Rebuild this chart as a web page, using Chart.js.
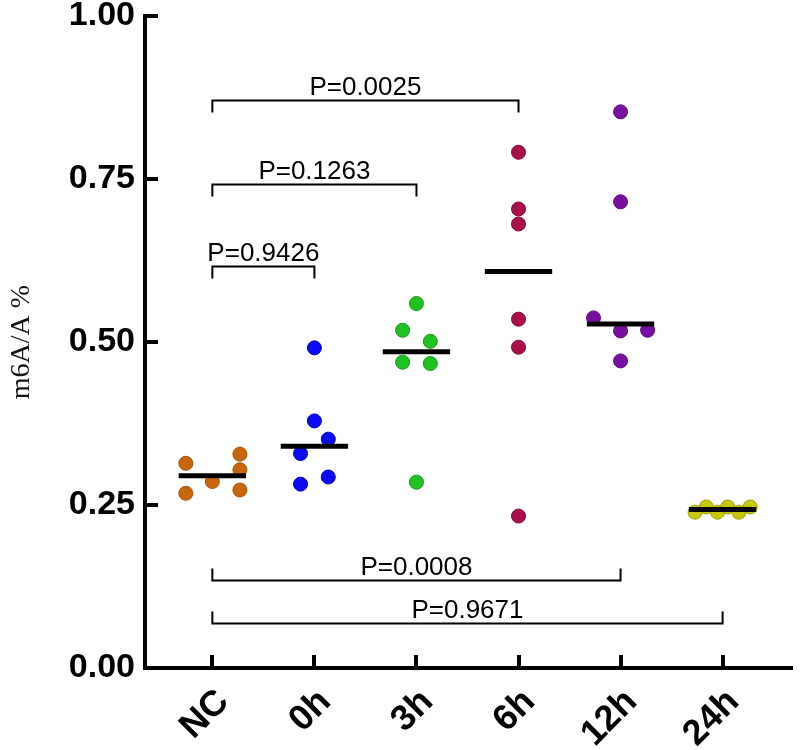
<!DOCTYPE html>
<html><head><meta charset="utf-8">
<script src="https://cdn.jsdelivr.net/npm/chart.js@4"></script>
<style>html,body{margin:0;padding:0;background:#fff;}</style>
</head><body>
<canvas id="c" width="800" height="750"></canvas>
<script>
const categories = ['NC', '0h', '3h', '6h', '12h', '24h'];

const ncValues  = [0.314, 0.268, 0.286, 0.328, 0.304, 0.273];
const h0Values  = [0.491, 0.379, 0.351, 0.329, 0.293, 0.282];
const h3Values  = [0.559, 0.518, 0.501, 0.469, 0.467, 0.285];
const h6Values  = [0.791, 0.704, 0.681, 0.535, 0.492, 0.233];
const h12Values = [0.853, 0.715, 0.537, 0.517, 0.518, 0.471];
const h24Values = [0.239, 0.247, 0.239, 0.247, 0.239, 0.247];

// horizontal scatter offsets (category units) of each point
const ncJitter  = [-0.26, -0.26, 0, 0.27, 0.27, 0.27];
const h0Jitter  = [0, 0, 0.136, -0.136, 0.136, -0.136];
const h3Jitter  = [0, -0.136, 0.136, -0.136, 0.136, 0];
const h6Jitter  = [0, 0, 0, 0, 0, 0];
const h12Jitter = [0, 0, -0.265, 0, 0.265, 0];
const h24Jitter = [-0.27, -0.16, -0.05, 0.05, 0.16, 0.27];

const yTicks = [0, 0.25, 0.5, 0.75, 1];
const yTickLabels = ['0.00', '0.25', '0.50', '0.75', '1.00'];

const bracketFrom   = [0, 0, 0, 0, 0];
const bracketTo     = [1, 2, 3, 4, 5];
const bracketLevel  = [0.616, 0.743, 0.871, 0.135, 0.069];
const bracketLabels = ['P=0.9426', 'P=0.1263', 'P=0.0025', 'P=0.0008', 'P=0.9671'];

const groupValues = [ncValues, h0Values, h3Values, h6Values, h12Values, h24Values];
const groupJitter = [ncJitter, h0Jitter, h3Jitter, h6Jitter, h12Jitter, h24Jitter];
const fillColors   = ['#C9660C', '#0A0AF2', '#1FC21F', '#AA0F4C', '#7A10A2', '#C8C80A'];
const borderColors = ['#A5520A', '#0000C0', '#159A15', '#85083A', '#5E0A80', '#9E9E05'];

function median(arr) {
  const s = [...arr].sort((a, b) => a - b);
  const n = s.length;
  return n % 2 ? s[(n - 1) / 2] : (s[n / 2 - 1] + s[n / 2]) / 2;
}

const datasets = [];
groupValues.forEach((vals, i) => {
  datasets.push({
    type: 'scatter',
    data: vals.map((v, k) => ({ x: i + groupJitter[i][k], y: v })),
    backgroundColor: fillColors[i],
    borderColor: borderColors[i],
    borderWidth: 1,
    pointRadius: 7,
    pointHoverRadius: 7,
    order: 2
  });
});
groupValues.forEach((vals, i) => {
  const m = median(vals);
  datasets.push({
    type: 'line',
    data: [{ x: i - 0.33, y: m }, { x: i + 0.33, y: m }],
    borderColor: '#000',
    borderWidth: 5,
    borderCapStyle: 'butt',
    pointRadius: 0,
    fill: false,
    order: 1
  });
});

const decor = {
  id: 'decor',
  afterDraw(chart) {
    const { ctx, chartArea: a, scales: { x, y } } = chart;
    ctx.save();
    ctx.strokeStyle = '#000';
    ctx.lineCap = 'butt';
    ctx.lineWidth = 4;
    yTicks.forEach(v => {
      const py = Math.round(y.getPixelForValue(v));
      ctx.beginPath(); ctx.moveTo(a.left, py); ctx.lineTo(a.left + 13, py); ctx.stroke();
    });
    categories.forEach((c, i) => {
      const px = Math.round(x.getPixelForValue(i));
      ctx.beginPath(); ctx.moveTo(px, a.bottom); ctx.lineTo(px, a.bottom - 13); ctx.stroke();
    });
    ctx.lineWidth = 2;
    ctx.fillStyle = '#000';
    ctx.font = '26px "Liberation Sans", Arial, sans-serif';
    ctx.textAlign = 'center';
    ctx.textBaseline = 'alphabetic';
    bracketLabels.forEach((lab, k) => {
      const x1 = x.getPixelForValue(bracketFrom[k]);
      const x2 = x.getPixelForValue(bracketTo[k]);
      const py = Math.round(y.getPixelForValue(bracketLevel[k])) + 0.5;
      const d = bracketLevel[k] > 0.5 ? 12 : -12;
      ctx.beginPath();
      ctx.moveTo(x1, py + d); ctx.lineTo(x1, py); ctx.lineTo(x2, py); ctx.lineTo(x2, py + d);
      ctx.stroke();
      ctx.fillText(lab, (x1 + x2) / 2, py - 6);
    });
    ctx.restore();
  }
};

new Chart(document.getElementById('c'), {
  type: 'scatter',
  data: { datasets },
  options: {
    responsive: false,
    animation: false,
    devicePixelRatio: 1,
    layout: { padding: { left: 0, right: 2, top: 16, bottom: 0 } },
    plugins: { legend: { display: false }, tooltip: { enabled: false } },
    scales: {
      x: {
        type: 'linear',
        min: -0.66, max: 5.68,
        afterBuildTicks: s => { s.ticks = categories.map((c, i) => ({ value: i })); },
        afterFit: s => { s.height = 82; s.paddingLeft = 0; s.paddingRight = 0; s.paddingTop = 0; s.paddingBottom = 0; },
        grid: { display: false, drawTicks: false, tickLength: 0 },
        border: { display: true, color: '#000', width: 4 },
        ticks: {
          autoSkip: false,
          minRotation: 45, maxRotation: 45,
          padding: 13,
          labelOffset: 11,
          color: '#000',
          font: { family: '"Liberation Sans", Arial, sans-serif', size: 36, weight: 'bold', lineHeight: 1.2 },
          callback: v => categories[v]
        }
      },
      y: {
        type: 'linear',
        min: 0, max: 1,
        afterBuildTicks: s => { s.ticks = yTicks.map(v => ({ value: v })); },
        afterFit: s => { s.width = 145; s.paddingTop = 0; s.paddingBottom = 0; s.paddingLeft = 0; s.paddingRight = 0; },
        grid: { display: false, drawTicks: false, tickLength: 0 },
        border: { display: true, color: '#000', width: 4 },
        ticks: {
          padding: 10,
          color: '#000',
          font: { family: '"Liberation Sans", Arial, sans-serif', size: 34, weight: 'bold', lineHeight: 1 },
          callback: (v) => yTickLabels[yTicks.indexOf(v)]
        },
        title: {
          display: true,
          text: 'm6A/A %',
          color: '#111',
          font: { family: '"Liberation Serif", "Times New Roman", serif', size: 28, weight: 'normal' },
          padding: { top: 5, bottom: 0 }
        }
      }
    }
  },
  plugins: [decor]
});
</script>
</body></html>
